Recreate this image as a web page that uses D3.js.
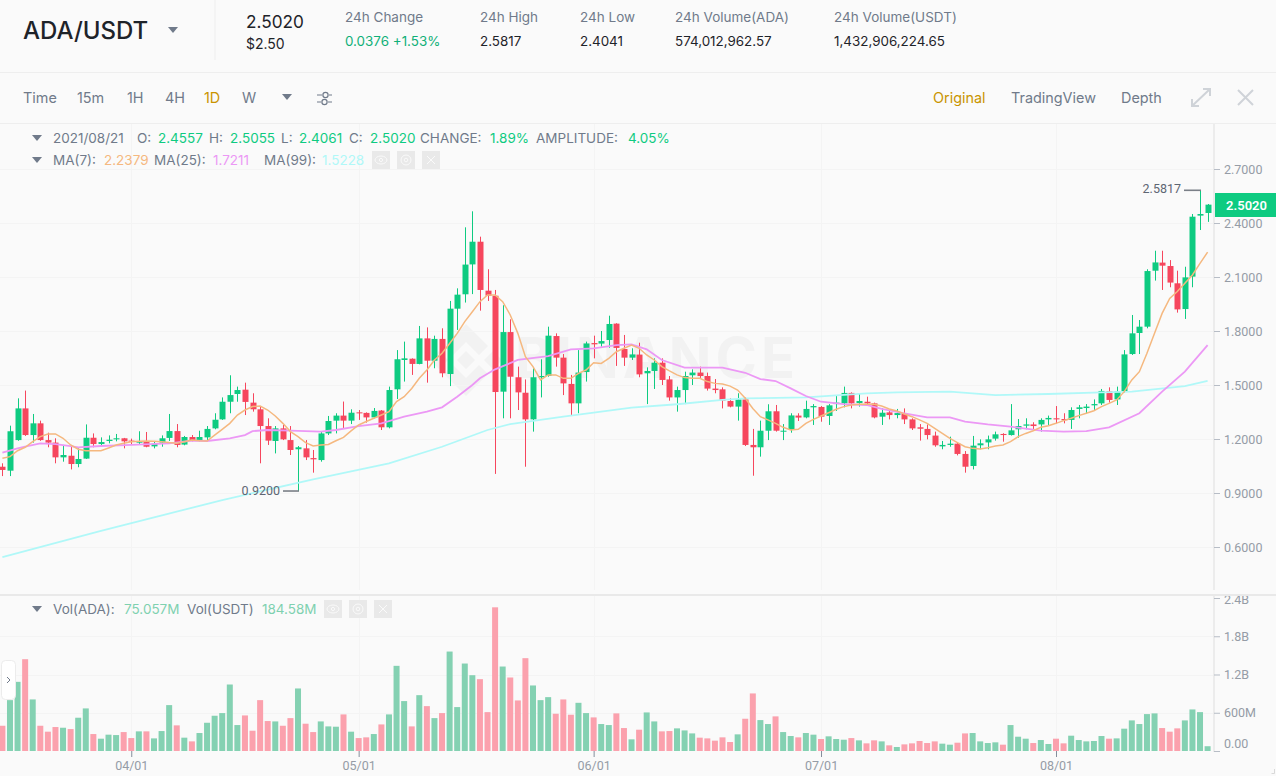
<!DOCTYPE html>
<html>
<head>
<meta charset="utf-8">
<title>ADA/USDT</title>
<script src="https://cdn.jsdelivr.net/npm/d3@7"></script>
<style>
  html, body { margin: 0; padding: 0; background: #fafafa; overflow: hidden; }
  svg { display: block; font-family: "Inter", "Roboto", sans-serif; }
</style>
</head>
<body>
<div id="chart"></div>
<script>
// Daily candles, 2021/03/15 to 2021/08/21
const opens = [
  1.046,1.024,1.194,1.370,1.222,1.287,1.194,1.180,1.098,1.107,
  1.061,1.091,1.207,1.172,1.189,1.198,1.204,1.191,1.180,1.183,
  1.159,1.180,1.206,1.244,1.169,1.211,1.194,1.209,1.259,1.309,
  1.407,1.450,1.474,1.402,1.365,1.272,1.189,1.259,1.194,1.143,
  1.148,1.094,1.083,1.231,1.302,1.330,1.302,1.348,1.345,1.320,
  1.358,1.265,1.476,1.639,1.646,1.617,1.759,1.635,1.756,1.561,
  1.924,2.004,2.170,2.296,2.024,1.996,1.463,1.794,1.543,1.457,
  1.309,1.543,1.550,1.772,1.652,1.506,1.398,1.572,1.733,1.730,
  1.750,1.841,1.700,1.652,1.669,1.565,1.578,1.624,1.531,1.431,
  1.472,1.554,1.569,1.550,1.480,1.476,1.411,1.380,1.420,1.167,
  1.154,1.246,1.354,1.241,1.250,1.330,1.320,1.376,1.378,1.328,
  1.394,1.398,1.456,1.400,1.407,1.398,1.324,1.348,1.333,1.343,
  1.309,1.265,1.256,1.219,1.159,1.167,1.174,1.117,1.050,1.165,
  1.181,1.202,1.228,1.222,1.254,1.274,1.281,1.281,1.309,1.315,
  1.311,1.306,1.367,1.372,1.387,1.398,1.465,1.420,1.463,1.672,
  1.789,1.824,2.135,2.180,2.161,2.065,1.922,2.102,2.441,2.4557
];
const highs = [
  1.065,1.274,1.426,1.469,1.339,1.302,1.235,1.204,1.167,1.157,
  1.148,1.281,1.231,1.209,1.220,1.228,1.206,1.202,1.243,1.239,
  1.185,1.220,1.339,1.283,1.217,1.222,1.246,1.272,1.343,1.431,
  1.554,1.491,1.513,1.454,1.383,1.315,1.272,1.278,1.272,1.161,
  1.194,1.139,1.241,1.328,1.343,1.408,1.365,1.361,1.348,1.372,
  1.361,1.491,1.694,1.741,1.648,1.828,1.820,1.774,1.815,1.967,
  2.037,2.376,2.465,2.324,2.143,2.028,1.943,1.865,1.602,1.531,
  1.593,1.643,1.824,1.787,1.672,1.556,1.694,1.741,1.774,1.800,
  1.885,1.843,1.778,1.704,1.735,1.598,1.648,1.648,1.550,1.491,
  1.574,1.587,1.602,1.569,1.533,1.487,1.426,1.454,1.431,1.256,
  1.302,1.393,1.389,1.283,1.343,1.343,1.413,1.394,1.383,1.394,
  1.439,1.491,1.459,1.450,1.435,1.402,1.370,1.361,1.367,1.370,
  1.315,1.283,1.281,1.241,1.189,1.213,1.181,1.133,1.217,1.198,
  1.219,1.241,1.232,1.394,1.311,1.315,1.293,1.315,1.330,1.383,
  1.343,1.376,1.389,1.394,1.420,1.478,1.487,1.491,1.694,1.889,
  1.861,2.143,2.246,2.246,2.194,2.135,2.157,2.450,2.5817,2.5055
];
const lows = [
  0.994,0.994,1.190,1.217,1.180,1.190,1.154,1.065,1.074,1.031,
  1.043,1.089,1.154,1.161,1.176,1.187,1.148,1.167,1.172,1.154,
  1.148,1.157,1.189,1.154,1.165,1.187,1.187,1.194,1.254,1.306,
  1.343,1.407,1.333,1.352,1.065,1.167,1.120,1.194,1.111,0.911,
  1.083,1.013,1.074,1.222,1.231,1.259,1.283,1.306,1.291,1.315,
  1.250,1.259,1.422,1.519,1.556,1.615,1.513,1.593,1.543,1.494,
  1.806,1.958,2.005,1.913,1.967,1.006,1.315,1.315,1.361,1.046,
  1.241,1.431,1.546,1.602,1.444,1.330,1.343,1.519,1.648,1.713,
  1.707,1.606,1.606,1.639,1.543,1.394,1.478,1.500,1.413,1.352,
  1.394,1.500,1.537,1.469,1.454,1.370,1.376,1.302,1.161,0.996,
  1.102,1.194,1.241,1.194,1.235,1.300,1.315,1.278,1.296,1.278,
  1.356,1.376,1.370,1.380,1.389,1.315,1.278,1.309,1.315,1.283,
  1.250,1.191,1.198,1.157,1.143,1.157,1.109,1.013,1.031,1.143,
  1.143,1.191,1.185,1.219,1.207,1.254,1.250,1.241,1.278,1.287,
  1.287,1.256,1.315,1.339,1.357,1.389,1.402,1.389,1.457,1.667,
  1.672,1.815,2.080,2.028,2.043,1.902,1.867,2.043,2.361,2.4061
];
const closes = [
  1.028,1.243,1.370,1.222,1.287,1.194,1.180,1.098,1.111,1.061,
  1.089,1.207,1.172,1.183,1.196,1.204,1.187,1.185,1.185,1.157,
  1.174,1.204,1.244,1.167,1.211,1.193,1.211,1.256,1.307,1.407,
  1.444,1.472,1.406,1.365,1.272,1.191,1.259,1.198,1.139,1.154,
  1.098,1.087,1.231,1.300,1.330,1.302,1.346,1.343,1.320,1.356,
  1.265,1.472,1.643,1.648,1.617,1.759,1.635,1.756,1.565,1.924,
  2.002,2.169,2.296,2.028,1.996,1.461,1.794,1.546,1.459,1.309,
  1.543,1.550,1.774,1.652,1.509,1.398,1.569,1.731,1.726,1.744,
  1.839,1.706,1.652,1.670,1.559,1.578,1.624,1.528,1.431,1.472,
  1.550,1.569,1.550,1.480,1.472,1.413,1.380,1.420,1.167,1.154,
  1.246,1.354,1.246,1.246,1.331,1.319,1.367,1.383,1.324,1.387,
  1.402,1.456,1.398,1.411,1.398,1.320,1.346,1.333,1.344,1.309,
  1.259,1.257,1.222,1.165,1.167,1.174,1.117,1.046,1.163,1.176,
  1.198,1.226,1.222,1.248,1.272,1.281,1.272,1.306,1.317,1.309,
  1.304,1.361,1.376,1.380,1.394,1.467,1.417,1.465,1.670,1.787,
  1.824,2.133,2.181,2.163,2.069,1.920,2.098,2.435,2.450,2.5020
];
// Volume in millions of ADA
const volumes = [
  396,798,1085,1440,809,396,303,376,365,344,
  522,668,266,193,256,250,297,203,308,308,
  198,313,720,402,209,151,282,443,553,595,
  1043,407,558,318,798,470,464,396,516,981,
  428,297,464,386,381,574,303,203,214,266,
  417,574,1336,783,386,876,704,516,595,1560,
  689,1372,1189,1127,610,2254,1325,1153,793,1456,
  1028,798,845,584,809,569,756,595,527,423,
  407,590,360,183,334,605,464,308,313,355,
  323,276,209,198,162,214,141,261,506,903,
  485,423,543,297,235,214,282,256,188,230,
  188,177,203,167,120,167,151,89,63,104,
  120,157,125,151,115,99,130,276,282,151,
  125,136,99,407,224,193,125,172,110,193,
  120,240,172,151,157,235,193,198,350,480,
  423,579,590,360,303,355,480,652,610,75
];
// Moving averages
const ma7 = [
  1.093,1.102,1.135,1.154,1.185,1.213,1.228,1.228,1.204,1.167,
  1.143,1.135,1.135,1.135,1.150,1.167,1.176,1.185,1.187,1.189,
  1.187,1.185,1.180,1.176,1.185,1.194,1.190,1.189,1.222,1.254,
  1.287,1.333,1.361,1.380,1.383,1.361,1.328,1.287,1.241,1.213,
  1.180,1.161,1.167,1.170,1.190,1.209,1.245,1.278,1.297,1.315,
  1.333,1.352,1.408,1.435,1.481,1.537,1.583,1.639,1.676,1.731,
  1.787,1.852,1.907,1.963,2.000,2.000,1.963,1.889,1.787,1.657,
  1.602,1.528,1.556,1.556,1.537,1.537,1.565,1.583,1.624,1.620,
  1.648,1.685,1.704,1.722,1.704,1.667,1.639,1.602,1.578,1.556,
  1.541,1.537,1.537,1.519,1.509,1.506,1.494,1.472,1.426,1.370,
  1.324,1.306,1.287,1.265,1.250,1.254,1.287,1.309,1.328,1.346,
  1.365,1.380,1.389,1.393,1.393,1.393,1.383,1.367,1.356,1.339,
  1.324,1.306,1.287,1.259,1.231,1.204,1.180,1.157,1.148,1.144,
  1.152,1.161,1.167,1.185,1.213,1.231,1.246,1.265,1.274,1.287,
  1.302,1.315,1.330,1.343,1.357,1.380,1.398,1.417,1.463,1.528,
  1.574,1.676,1.787,1.898,1.981,2.019,2.065,2.111,2.176,2.2379
];
const ma25Days = [0,2,3,5,7,9,10,13,17,22,25,27,30,32,33,35,38,42,44,47,50,53,56,58,60,62,63,65,68,72,75,78,81,83,85,87,90,95,98,100,102,104,106,108,111,114,116,119,122,125,127,130,133,137,140,143,146,150,153,156,159];
const ma25 = [1.124,1.148,1.157,1.176,1.172,1.161,1.154,1.161,1.167,1.176,1.191,1.189,1.204,1.222,1.244,1.250,1.246,1.241,1.250,1.272,1.287,1.324,1.352,1.376,1.435,1.500,1.537,1.587,1.639,1.661,1.698,1.704,1.722,1.726,1.698,1.639,1.596,1.596,1.568,1.533,1.522,1.481,1.439,1.407,1.394,1.389,1.367,1.343,1.320,1.320,1.296,1.281,1.269,1.246,1.241,1.244,1.265,1.343,1.463,1.574,1.7211];
const ma99Days = [0,13,29,41,51,58,64,67,74,79,83,89,95,98,106,114,118,125,131,138,145,149,156,159];
const ma99 = [0.544,0.689,0.861,0.976,1.065,1.157,1.250,1.283,1.324,1.352,1.374,1.393,1.417,1.426,1.431,1.454,1.459,1.463,1.444,1.450,1.459,1.463,1.494,1.5228];

const priceTicks = [0.6, 0.9, 1.2, 1.5, 1.8, 2.1, 2.4, 2.7];
const volumeTicks = [0, 600, 1200, 1800, 2400];
const volumeTickLabels = ["0.00", "600M", "1.2B", "1.8B", "2.4B"];
const monthDays = [17, 47, 78, 108, 139];
const monthLabels = ["04/01", "05/01", "06/01", "07/01", "08/01"];

const width = 1276;
const height = 776;
const axisX = 1214;

const GREEN = "#0ecb81";
const RED = "#f6465d";
const VOL_GREEN = "#84d1b2";
const VOL_RED = "#fba1ad";
const GREY = "#707a8a";
const AXIS_GREY = "#959ca6";
const DARK = "#1e2329";
const GRID = "#f4f4f4";
const BORDER = "#eeeeee";
const AXIS_FONT = "Roboto, sans-serif";

const svg = d3.select("#chart").append("svg")
  .attr("width", width)
  .attr("height", height);

svg.append("rect").attr("width", width).attr("height", height).attr("fill", "#fafafa");

// Scales
const x = d3.scaleLinear().domain([0, 159]).range([2.4, 1207.6]);
const yPrice = d3.scaleLinear().domain([0.6, 2.7]).range([547, 169]);
const yVol = d3.scaleLinear().domain([0, 2400]).range([751, 598]);

function label(parent, px, py, str, size, color, weight) {
  return parent.append("text")
    .attr("x", px).attr("y", py)
    .attr("font-size", size)
    .attr("fill", color)
    .attr("font-weight", weight || 400)
    .text(str);
}

function caret(parent, cx, cy, color) {
  parent.append("path")
    .attr("d", `M${cx - 5},${cy - 3}L${cx + 5},${cy - 3}L${cx},${cy + 3}Z`)
    .attr("fill", color);
}

// Header
const header = svg.append("g");
label(header, 23, 39, "ADA/USDT", 24, DARK, 500);
caret(header, 173, 30, GREY);
header.append("line").attr("x1", 215).attr("x2", 215).attr("y1", 0).attr("y2", 60).attr("stroke", BORDER);
label(header, 246, 28, "2.5020", 17.2, DARK, 400);
label(header, 246, 49, "$2.50", 14, DARK, 400);

const stats = [
  [345, "24h Change", "0.0376 +1.53%", "#0fb078"],
  [480, "24h High", "2.5817", DARK],
  [580, "24h Low", "2.4041", DARK],
  [675, "24h Volume(ADA)", "574,012,962.57", DARK],
  [834, "24h Volume(USDT)", "1,432,906,224.65", DARK]
];
stats.forEach(([px, title, value, color]) => {
  label(header, px, 22, title, 13.5, GREY);
  label(header, px, 46, value, 13.4, color);
});
svg.append("line").attr("x1", 0).attr("x2", width).attr("y1", 72.5).attr("y2", 72.5).attr("stroke", BORDER);

// Toolbar
const toolbar = svg.append("g");
[[23, "Time", GREY], [77, "15m", GREY], [127, "1H", GREY], [165, "4H", GREY], [204, "1D", "#c99400"], [242, "W", GREY]]
  .forEach(([px, str, color]) => label(toolbar, px, 103, str, 14.4, color));
caret(toolbar, 287, 97, GREY);
toolbar.append("path")
  .attr("d", "M317,95H322M329,95H332M317,102H321M328,102H332")
  .attr("stroke", GREY).attr("stroke-width", 1.2).attr("fill", "none");
toolbar.append("circle").attr("cx", 325.5).attr("cy", 95).attr("r", 2.6).attr("fill", "none").attr("stroke", GREY).attr("stroke-width", 1.2);
toolbar.append("circle").attr("cx", 324.5).attr("cy", 102).attr("r", 2.6).attr("fill", "none").attr("stroke", GREY).attr("stroke-width", 1.2);
[[933, "Original", "#c99400"], [1011, "TradingView", GREY], [1121, "Depth", GREY]]
  .forEach(([px, str, color]) => label(toolbar, px, 103, str, 14.4, color));
toolbar.append("path")
  .attr("d", "M1192,106L1210,89M1203,89H1210V96M1192,99V106H1199")
  .attr("stroke", "#cfd3d8").attr("stroke-width", 2).attr("fill", "none");
toolbar.append("path")
  .attr("d", "M1238,90L1253,105M1253,90L1238,105")
  .attr("stroke", "#cfd3d8").attr("stroke-width", 2).attr("fill", "none");
svg.append("line").attr("x1", 0).attr("x2", width).attr("y1", 123.5).attr("y2", 123.5).attr("stroke", BORDER);

// Watermark
const mark = svg.append("g").attr("fill", "#f2f2f2");
mark.append("path").attr("transform", "translate(466,360)")
  .attr("d", "M0,-36L22,-14L13,-5L0,-18L-13,-5L-22,-14ZM-36,0L-27,-9L-18,0L-27,9ZM36,0L27,-9L18,0L27,9ZM0,-9L9,0L0,9L-9,0ZM0,36L22,14L13,5L0,18L-13,5L-22,14Z");
label(mark, 515, 378, "BINANCE", 56, "#f2f2f2", 700).attr("textLength", 280);

// Grid
const grid = svg.append("g").attr("stroke", GRID).attr("stroke-width", 1);
grid.selectAll(".gp").data(priceTicks).enter().append("line")
  .attr("x1", 0).attr("x2", axisX)
  .attr("y1", (d) => Math.round(yPrice(d)) + 0.5).attr("y2", (d) => Math.round(yPrice(d)) + 0.5);
grid.selectAll(".gv").data(volumeTicks.slice(1, 4)).enter().append("line")
  .attr("x1", 0).attr("x2", axisX)
  .attr("y1", (d) => Math.round(yVol(d)) + 0.5).attr("y2", (d) => Math.round(yVol(d)) + 0.5);
grid.selectAll(".gm").data(monthDays).enter().append("line")
  .attr("y1", 124).attr("y2", 751)
  .attr("x1", (d) => Math.round(x(d)) + 0.5).attr("x2", (d) => Math.round(x(d)) + 0.5);

// Volume bars
const isUp = (i) => closes[i] >= opens[i];
svg.append("g").selectAll("rect").data(volumes).enter().append("rect")
  .attr("x", (d, i) => x(i) - 3)
  .attr("width", 6)
  .attr("y", (d) => yVol(d))
  .attr("height", (d) => yVol(0) - yVol(d))
  .attr("fill", (d, i) => isUp(i) ? VOL_GREEN : VOL_RED);

// Candles
const candles = svg.append("g").selectAll("g").data(d3.range(opens.length)).enter().append("g");
candles.append("line")
  .attr("x1", (i) => Math.round(x(i)) + 0.5).attr("x2", (i) => Math.round(x(i)) + 0.5)
  .attr("y1", (i) => yPrice(highs[i])).attr("y2", (i) => yPrice(lows[i]))
  .attr("stroke", (i) => isUp(i) ? GREEN : RED)
  .attr("stroke-width", 1);
candles.append("rect")
  .attr("x", (i) => Math.round(x(i)) - 2.5)
  .attr("width", 6)
  .attr("y", (i) => yPrice(Math.max(opens[i], closes[i])))
  .attr("height", (i) => Math.max(1, Math.abs(yPrice(opens[i]) - yPrice(closes[i]))))
  .attr("fill", (i) => isUp(i) ? GREEN : RED);

// Moving averages
const maLine = d3.line().x((d) => x(d[0])).y((d) => yPrice(d[1]));
const maSeries = [
  [ma99.map((v, i) => [ma99Days[i], v]), "#b0f8f8", 1.8],
  [ma25.map((v, i) => [ma25Days[i], v]), "#ec98f5", 1.8],
  [ma7.map((v, i) => [i, v]), "#f5b87f", 1.5]
];
maSeries.forEach(([points, color, lineWidth]) => {
  svg.append("path").datum(points)
    .attr("d", maLine)
    .attr("fill", "none")
    .attr("stroke", color)
    .attr("stroke-width", lineWidth);
});

// High and low markers
const annot = svg.append("g").attr("font-family", AXIS_FONT);
annot.append("line").attr("x1", 1184).attr("x2", x(158) + 1).attr("y1", yPrice(2.5817)).attr("y2", yPrice(2.5817)).attr("stroke", "#7a7f87").attr("stroke-width", 1.6);
label(annot, 1181, yPrice(2.5817) + 3, "2.5817", 12.5, "#5e6673").attr("text-anchor", "end");
annot.append("line").attr("x1", 283).attr("x2", x(39) + 1).attr("y1", yPrice(lows[39])).attr("y2", yPrice(lows[39])).attr("stroke", "#7a7f87").attr("stroke-width", 1.6);
label(annot, 280, yPrice(lows[39]) + 3.5, "0.9200", 12.5, "#5e6673").attr("text-anchor", "end");

// Axes
const priceAxis = d3.axisRight(yPrice)
  .tickValues(priceTicks)
  .tickFormat(d3.format(".4f"))
  .tickSize(6)
  .tickPadding(4);
const volAxis = d3.axisRight(yVol)
  .tickValues(volumeTicks)
  .tickFormat((d, i) => volumeTickLabels[i])
  .tickSize(6)
  .tickPadding(4);
const timeAxis = d3.axisBottom(x)
  .tickValues(monthDays)
  .tickFormat((d, i) => monthLabels[i])
  .tickSize(6)
  .tickPadding(4);

function styleAxis(g, color) {
  g.select(".domain").remove();
  g.selectAll("line").attr("stroke", color);
  g.selectAll("text").attr("fill", AXIS_GREY).attr("font-size", 12.5).attr("font-family", AXIS_FONT);
}

svg.append("rect").attr("x", axisX - 1).attr("y", 124).attr("width", 2).attr("height", 628).attr("fill", "#ececec");
svg.append("g").attr("transform", `translate(${axisX},0)`).call(priceAxis).call(styleAxis, "#b7bdc6");
const volAxisG = svg.append("g").attr("transform", `translate(${axisX},0)`).call(volAxis).call(styleAxis, "#b7bdc6");
// The zero label sits above its tick, the top one is cut by the pane border
volAxisG.selectAll("text").filter((d) => d === 0).attr("dy", "-0.25em");
volAxisG.selectAll("text").filter((d) => d === 2400).attr("dy", "0.45em");
svg.append("g").attr("transform", "translate(0,751)").call(timeAxis).call(styleAxis, "#848e9c");

// Pane border over the volume axis
svg.append("rect").attr("x", 0).attr("y", 590).attr("width", width).attr("height", 4).attr("fill", "#fafafa");
svg.append("rect").attr("x", 0).attr("y", 594).attr("width", width).attr("height", 2).attr("fill", "#e9e9e9");

// Last price tag
svg.append("rect").attr("x", 1215).attr("y", 193).attr("width", 61).attr("height", 24).attr("fill", GREEN);
label(svg, 1246.5, 209.5, "2.5020", 13, "#ffffff", 600).attr("text-anchor", "middle").attr("font-family", AXIS_FONT);

// Legends
const legend = svg.append("g");
caret(legend, 37, 138, GREY);
[
  [53, "2021/08/21", GREY], [137, "O:", GREY], [158, "2.4557", GREEN],
  [209, "H:", GREY], [230, "2.5055", GREEN], [281, "L:", GREY], [299, "2.4061", GREEN],
  [349, "C:", GREY], [370, "2.5020", GREEN], [420, "CHANGE:", GREY], [490, "1.89%", GREEN],
  [536, "AMPLITUDE:", GREY], [628, "4.05%", GREEN]
].forEach(([px, str, color]) => label(legend, px, 143, str, 13.5, color));
caret(legend, 37, 160, GREY);
[
  [53, "MA(7):", GREY], [104, "2.2379", "#f5b87f"], [154, "MA(25):", GREY], [213, "1.7211", "#ec98f5"],
  [264, "MA(99):", GREY], [322, "1.5228", "#b0f8f8"]
].forEach(([px, str, color]) => label(legend, px, 165, str, 13.5, color));
caret(legend, 37, 609, GREY);
[
  [53, "Vol(ADA):", GREY], [124, "75.057M", "#7fd1b0"], [187, "Vol(USDT)", GREY], [262, "184.58M", "#7fd1b0"]
].forEach(([px, str, color]) => label(legend, px, 614, str, 13.5, color));

function iconButtons(left, top) {
  const g = legend.append("g");
  [0, 25, 50].forEach((dx) => {
    g.append("rect").attr("x", left + dx).attr("y", top).attr("width", 18).attr("height", 18).attr("fill", "#e9e9e9");
  });
  const s = "#fafafa";
  g.append("ellipse").attr("cx", left + 9).attr("cy", top + 9).attr("rx", 6).attr("ry", 4).attr("fill", "none").attr("stroke", s);
  g.append("circle").attr("cx", left + 9).attr("cy", top + 9).attr("r", 1.6).attr("fill", "none").attr("stroke", s);
  g.append("circle").attr("cx", left + 34).attr("cy", top + 9).attr("r", 5).attr("fill", "none").attr("stroke", s);
  g.append("circle").attr("cx", left + 34).attr("cy", top + 9).attr("r", 1.8).attr("fill", "none").attr("stroke", s);
  g.append("path").attr("d", `M${left + 55},${top + 5}L${left + 63},${top + 13}M${left + 63},${top + 5}L${left + 55},${top + 13}`).attr("stroke", s);
}
iconButtons(372, 151);
iconButtons(324, 600);

// Collapse handle
svg.append("rect").attr("x", 1.5).attr("y", 660.5).attr("width", 14).attr("height", 39).attr("rx", 4)
  .attr("fill", "#ffffff").attr("stroke", "#ececec");
svg.append("path").attr("d", "M7,677L10,680L7,683").attr("fill", "none").attr("stroke", GREY);

// Corner grip
svg.append("path").attr("d", "M1271.5,773.5H1274.5V769").attr("fill", "none").attr("stroke", "#d9d9d9");
</script>
</body>
</html>
